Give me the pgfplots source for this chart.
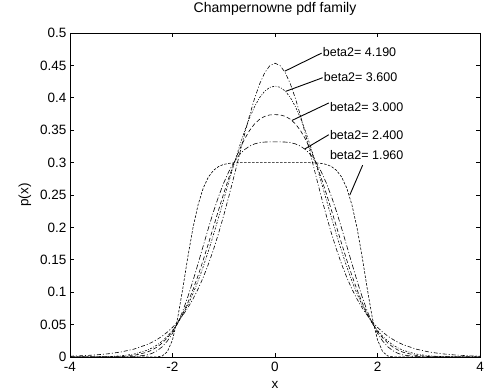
\documentclass[border=0pt]{standalone}
\usepackage{fontspec}
\setmainfont{Liberation Sans}
\usepackage{pgfplots}
\usepackage{pgfplotstable}
\pgfplotsset{compat=1.18}
\pgfplotstableread{
x A B C D E
-4 0.0013 0 0 0 0
-3.75 0.0020 0.0001 0 0 0
-3.5 0.0032 0.0002 0 0 0
-3.25 0.0050 0.0007 0.0002 0 0
-3 0.0078 0.0018 0.0007 0.0001 0
-2.75 0.0122 0.0045 0.0025 0.0005 0
-2.5 0.0191 0.0103 0.0073 0.0031 0
-2.4 0.0227 0.0139 0.0107 0.0056 0
-2.3 0.0271 0.0186 0.0154 0.0097 0.0002
-2.2 0.0323 0.0246 0.0216 0.0158 0.0016
-2.1 0.0385 0.0320 0.0296 0.0247 0.0083
-2.0 0.0457 0.0411 0.0396 0.0366 0.0264
-1.9 0.0543 0.0520 0.0520 0.0520 0.0598
-1.8 0.0643 0.0651 0.0668 0.0709 0.1054
-1.7 0.0760 0.0803 0.0841 0.0930 0.1548
-1.6 0.0895 0.0978 0.1039 0.1177 0.1996
-1.5 0.1051 0.1175 0.1259 0.1443 0.2351
-1.4 0.1229 0.1394 0.1497 0.1716 0.2608
-1.3 0.1432 0.1633 0.1749 0.1986 0.2777
-1.2 0.1659 0.1888 0.2009 0.2244 0.2880
-1.1 0.1911 0.2156 0.2270 0.2479 0.2940
-1.0 0.2186 0.2431 0.2525 0.2687 0.2972
-0.9 0.2480 0.2707 0.2767 0.2863 0.2988
-0.8 0.2789 0.2977 0.2989 0.3005 0.2995
-0.7 0.3105 0.3234 0.3186 0.3116 0.2998
-0.6 0.3418 0.3472 0.3354 0.3197 0.3000
-0.5 0.3716 0.3683 0.3491 0.3253 0.3000
-0.4 0.3986 0.3861 0.3596 0.3288 0.3000
-0.3 0.4214 0.4003 0.3669 0.3308 0.3000
-0.2 0.4388 0.4103 0.3714 0.3317 0.3000
-0.1 0.4497 0.4162 0.3736 0.3320 0.3000
0 0.4534 0.4180 0.3740 0.3320 0.3000
0.1 0.4497 0.4162 0.3736 0.3320 0.3000
0.2 0.4388 0.4103 0.3714 0.3317 0.3000
0.3 0.4214 0.4003 0.3669 0.3308 0.3000
0.4 0.3986 0.3861 0.3596 0.3288 0.3000
0.5 0.3716 0.3683 0.3491 0.3253 0.3000
0.6 0.3418 0.3472 0.3354 0.3197 0.3000
0.7 0.3105 0.3234 0.3186 0.3116 0.2998
0.8 0.2789 0.2977 0.2989 0.3005 0.2995
0.9 0.2480 0.2707 0.2767 0.2863 0.2988
1.0 0.2186 0.2431 0.2525 0.2687 0.2972
1.1 0.1911 0.2156 0.2270 0.2479 0.2940
1.2 0.1659 0.1888 0.2009 0.2244 0.2880
1.3 0.1432 0.1633 0.1749 0.1986 0.2777
1.4 0.1229 0.1394 0.1497 0.1716 0.2608
1.5 0.1051 0.1175 0.1259 0.1443 0.2351
1.6 0.0895 0.0978 0.1039 0.1177 0.1996
1.7 0.0760 0.0803 0.0841 0.0930 0.1548
1.8 0.0643 0.0651 0.0668 0.0709 0.1054
1.9 0.0543 0.0520 0.0520 0.0520 0.0598
2.0 0.0457 0.0411 0.0396 0.0366 0.0264
2.1 0.0385 0.0320 0.0296 0.0247 0.0083
2.2 0.0323 0.0246 0.0216 0.0158 0.0016
2.3 0.0271 0.0186 0.0154 0.0097 0.0002
2.4 0.0227 0.0139 0.0107 0.0056 0
2.5 0.0191 0.0103 0.0073 0.0031 0
2.75 0.0122 0.0045 0.0025 0.0005 0
3 0.0078 0.0018 0.0007 0.0001 0
3.25 0.0050 0.0007 0.0002 0 0
3.5 0.0032 0.0002 0 0 0
3.75 0.0020 0.0001 0 0 0
4 0.0013 0 0 0 0
}\datatable
\begin{document}
\begin{tikzpicture}
\begin{axis}[
  scale only axis,
  width=410pt, height=324pt,
  xmin=-4, xmax=4, ymin=0, ymax=0.5,
  xtick={-4,-2,0,2,4},
  ytick={0,0.05,0.1,0.15,0.2,0.25,0.3,0.35,0.4,0.45,0.5},
  yticklabels={0,0.05,0.1,0.15,0.2,0.25,0.3,0.35,0.4,0.45,0.5},
  xticklabels={-4,-2,0,2,4},
  tick align=inside,
  major tick length=4pt,
  axis line style={line width=0.6pt},
  tick style={line width=0.6pt, black},
  ticklabel style={font=\fontsize{13.5}{15}\selectfont},
  xticklabel style={yshift=-2pt},
  title={Champernowne pdf family},
  title style={font=\fontsize{14}{16}\selectfont, at={(0.5,1)}, anchor=center, yshift=18pt},
  xlabel={x},
  xlabel style={font=\fontsize{13.5}{15}\selectfont, at={(0.5,0)}, anchor=center, yshift=-28pt},
  ylabel={p(x)},
  ylabel style={font=\fontsize{13.5}{15}\selectfont, at={(-0.11,0.5)}, anchor=center},
  every axis plot/.append style={line width=0.6pt, black},
]
\coordinate (sw) at (rel axis cs:0,0);
\coordinate (ne) at (rel axis cs:1,1);
\addplot[dash pattern=on 4pt off 2pt on 1pt off 2pt] table[x=x,y=A] {\datatable};
\addplot[dash pattern=on 2pt off 1.5pt on 0.8pt off 1.5pt] table[x=x,y=B] {\datatable};
\addplot[dash pattern=on 4pt off 2.5pt] table[x=x,y=C] {\datatable};
\addplot[dash pattern=on 5pt off 2pt on 1pt off 2pt] table[x=x,y=D] {\datatable};
\addplot[dash pattern=on 2.5pt off 1.5pt] table[x=x,y=E] {\datatable};
\draw[line width=0.9pt] (axis cs:0.91,0.469) -- (axis cs:0.19,0.441);
\draw[line width=0.9pt] (axis cs:0.93,0.431) -- (axis cs:0.21,0.410);
\draw[line width=0.9pt] (axis cs:1.05,0.392) -- (axis cs:0.33,0.365);
\draw[line width=0.9pt] (axis cs:1.05,0.343) -- (axis cs:0.58,0.321);
\draw[line width=0.9pt] (axis cs:1.71,0.296) -- (axis cs:1.46,0.250);
\node[anchor=west, inner sep=0pt, font=\fontsize{12.5}{14}\selectfont] at (axis cs:0.93,0.470) {beta2= 4.190};
\node[anchor=west, inner sep=0pt, font=\fontsize{12.5}{14}\selectfont] at (axis cs:0.95,0.432) {beta2= 3.600};
\node[anchor=west, inner sep=0pt, font=\fontsize{12.5}{14}\selectfont] at (axis cs:1.07,0.386) {beta2= 3.000};
\node[anchor=west, inner sep=0pt, font=\fontsize{12.5}{14}\selectfont] at (axis cs:1.07,0.343) {beta2= 2.400};
\node[anchor=west, inner sep=0pt, font=\fontsize{12.5}{14}\selectfont] at (axis cs:1.07,0.312) {beta2= 1.960};
\end{axis}
\pgfresetboundingbox
\path[use as bounding box] ([shift={(-70pt,-35pt)}]sw) rectangle ([shift={(6pt,33pt)}]ne);
\end{tikzpicture}
\end{document}
